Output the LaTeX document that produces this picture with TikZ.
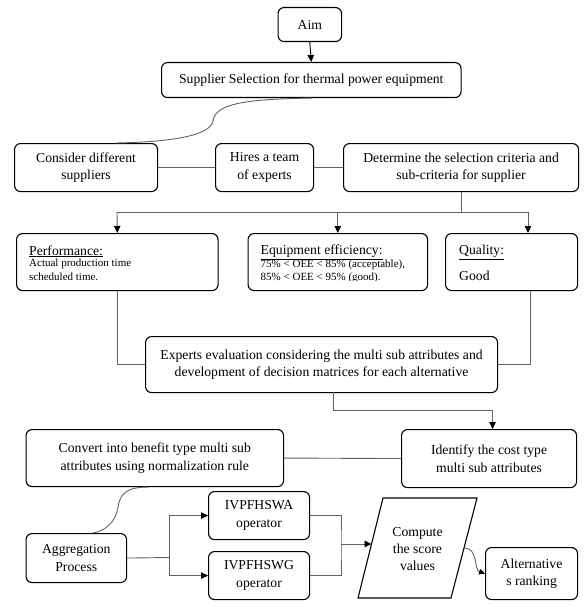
\documentclass[tikz,border=0pt]{standalone}
\usepackage{fontspec}
\setmainfont{Liberation Serif}
\usetikzlibrary{arrows.meta,calc}
\begin{document}
\begin{tikzpicture}[x=1pt,y=-1pt,
  box/.style={draw, line width=1.1pt, rounded corners=6pt, inner sep=0pt, align=center, anchor=north west, font=\fontsize{13.7}{17.6}\selectfont},
  conn/.style={draw=black!62, line width=0.9pt},
  arr/.style={conn, -{Triangle[length=7pt,width=6.5pt,color=black]}},
  ttl/.style={anchor=base west, inner sep=0pt, font=\fontsize{13.7}{16}\selectfont},
  sml/.style={anchor=base west, inner sep=0pt, font=\fontsize{11}{13}\selectfont},
  txt/.style={inner sep=0pt, align=center, font=\fontsize{13.7}{17.2}\selectfont},
]
\useasboundingbox (0,0) rectangle (588,607);

% boxes
\node[box, minimum width=63.5, minimum height=34] (aim) at (277.5,7) {Aim};
\node[box, minimum width=299.5, minimum height=35] (supp) at (161,62) {Supplier Selection for thermal power equipment};
\node[box, minimum width=143, minimum height=48] (cons) at (14,143) {Consider different\\suppliers};
\node[box, minimum width=98, minimum height=48] (hires) at (215,143) {Hires a team\\of experts};
\node[box, minimum width=235, minimum height=48] (det) at (343,143) {Determine the selection criteria and\\sub-criteria for supplier};

\node[box, minimum width=201.5, minimum height=57] (perf) at (16,233) {};
\node[box, minimum width=179.5, minimum height=57] (equip) at (247.5,233) {};
\node[box, minimum width=132, minimum height=57] (qual) at (445,233) {};

\node[ttl] (perft) at (29,255) {\underline{Performance:}};
\node[sml] (perf1) at (29,266) {Actual production time};
\node[sml] (perf2) at (29,280) {scheduled time.};

\node[ttl] (equipt) at (260.5,254.5) {\underline{Equipment efficiency:}};
\node[sml] (equip1) at (260.5,267) {75\% < OEE < 85\% (acceptable),};
\begin{scope}
\clip (240,270) rectangle (588,280.6);
\node[sml] (equip2) at (260.5,280.8) {85\% < OEE < 95\% (good).};
\node[ttl] (qual2) at (459,280.8) {Good};
\end{scope}
\node[ttl] (qualt) at (459,254.5) {\underline{Quality:}};

\node[box, minimum width=352, minimum height=56] (exp) at (145,336) {Experts evaluation considering the multi sub attributes and\\development of decision matrices for each alternative};

\node[box, minimum width=257.5, minimum height=57] (conv) at (25.5,429) {Convert into benefit type multi sub\\attributes using normalization rule};
\node[box, minimum width=175, minimum height=58] (ident) at (401,429) {Identify the cost type\\multi sub attributes};

\node[box, minimum width=100.5, minimum height=49] (agg) at (25.5,533) {Aggregation\\Process};
\node[box, minimum width=101, minimum height=48] (ivA) at (208,491) {IVPFHSWA\\operator};
\node[box, minimum width=101, minimum height=48] (ivG) at (208,551) {IVPFHSWG\\operator};
\node[box, minimum width=92, minimum height=52] (alt) at (485,547) {Alternative\\s ranking};

% parallelogram
\coordinate (ptl) at (383,498);
\coordinate (ptr) at (477,498);
\coordinate (pbr) at (451,598);
\coordinate (pbl) at (358,598);
\draw[line width=1.1pt, line join=miter] (ptl) -- (ptr) -- (pbr) -- (pbl) -- cycle;
\node[txt] (comp) at (417.5,549) {Compute\\the score\\values};
\coordinate (cin) at (371.5,544);
\coordinate (cout) at (464.5,548);

% connectors
\draw[conn, draw=black, -{Triangle[length=7pt,width=6.5pt]}] (aim.south) -- (supp.north);
\draw[conn] (supp.south) .. controls (240,99) and (215,105) .. (213,121) .. controls (210,136) and (170,142) .. ($(cons.north west)+(102,0)$);
\draw[conn] (cons.east) -- (hires.west);
\draw[conn] (hires.east) -- (det.west);

\coordinate (hl) at (117,212);
\coordinate (hr) at (528,212);
\draw[conn] (det.south) -- (det.south |- hl);
\draw[conn] (hl) -- (hr);
\draw[arr] (hl) -- (perf.north);
\draw[arr] (hl -| equip.north) -- (equip.north);
\draw[arr] (hr) -- (hr |- qual.north);

\draw[conn] (perf.south) |- (exp.west);
\draw[conn] ($(qual.south east)+(-48,0)$) |- (exp.east);

\coordinate (eb) at (333,392);
\draw[arr] (eb) -- (333,410) -| ($(ident.north)+(3.5,0)$);

\draw[conn] (ident.west) -- (conv.east);
\draw[conn] ($(conv.south west)+(122.5,0)$) .. controls (125,487) and (120,495) .. (118,507) .. controls (116,522) and (105,531) .. ($(agg.north west)+(67.5,0)$);

\coordinate (j1) at (169.5,557.5);
\draw[conn] (agg.east) -- (j1);
\draw[arr] (j1) |- (ivA.west);
\draw[arr] (j1) |- (ivG.west);

\coordinate (j2) at (341,544);
\draw[conn] (ivA.east) -| (j2) |- (ivG.east);
\draw[arr] (j2) -- (cin);

\draw[conn, -{Triangle[length=6pt,width=5.5pt,color=black]}] (cout) .. controls (478,548) and (474,570) .. (alt.west);
\end{tikzpicture}
\end{document}
